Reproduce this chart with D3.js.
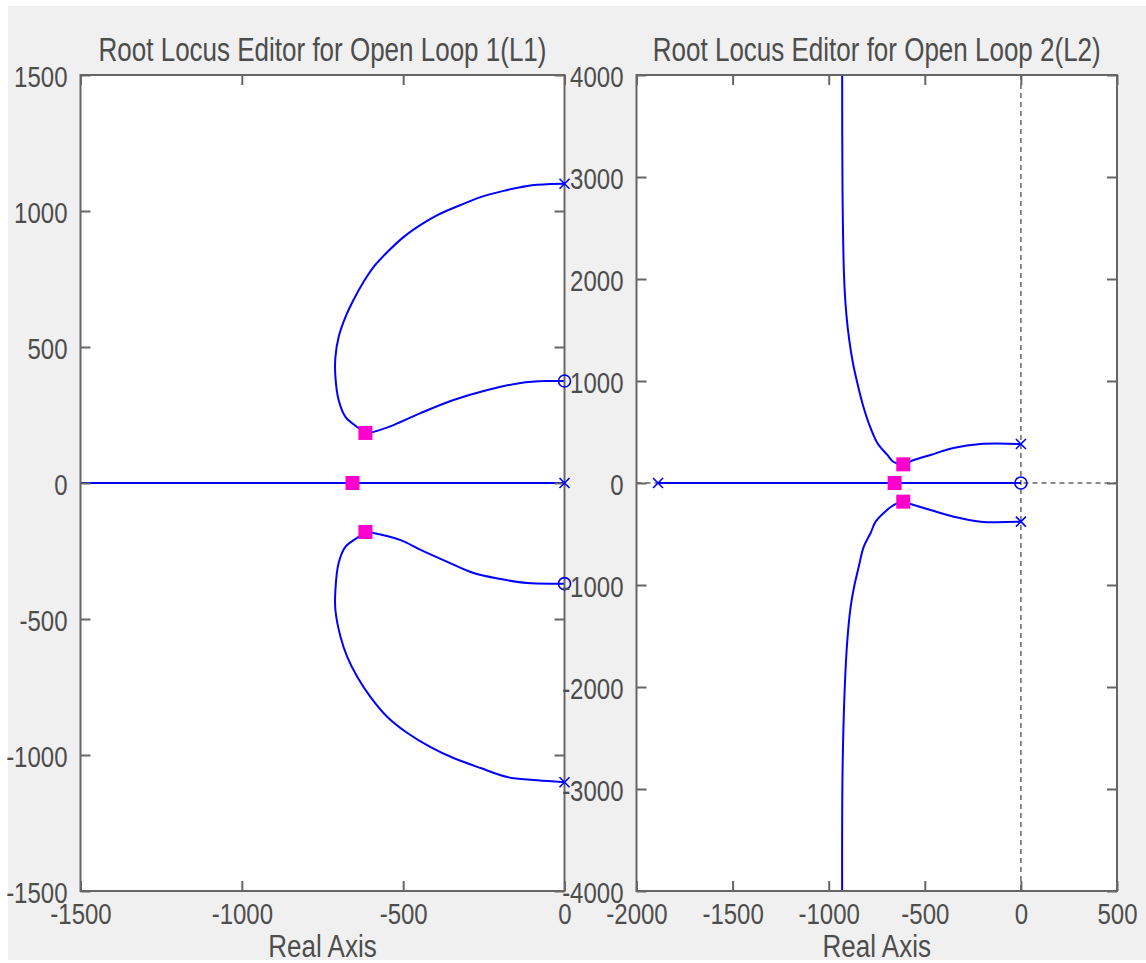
<!DOCTYPE html>
<html>
<head>
<meta charset="utf-8">
<script src="https://cdn.jsdelivr.net/npm/d3@7"></script>
<style>
html,body{margin:0;padding:0;background:#fff;}
svg{display:block;}
</style>
</head>
<body>
<svg id="chart" width="1146" height="963"></svg>
<script>
// ---------- DATA ----------
const titles = ["Root Locus Editor for Open Loop 1(L1)", "Root Locus Editor for Open Loop 2(L2)"];
const xLabel = "Real Axis";

// Panel 1 (L1)
const l1XDomain = [-1500, 0];
const l1YDomain = [-1500, 1500];
const l1XTicks = [-1500, -1000, -500, 0];
const l1YTicks = [-1500, -1000, -500, 0, 500, 1000, 1500];
const l1Poles = [[0, 1100], [0, 0], [0, -1100]];
const l1Zeros = [[0, 375], [0, -370]];
const l1ClosedLoop = [[-617, 184], [-657, 0], [-617, -180]];
const l1UpperBranch = [[0,1100],[-43,1099],[-115,1092],[-189,1074],[-260,1051],[-322,1022],[-394,985],[-446,949],[-499,904],[-549,849],[-592,794],[-623,739],[-654,673],[-679,610],[-700,537],[-710,463],[-710,390],[-700,305],[-679,243],[-638,202],[-617,184],[-592,188],[-530,213],[-446,257],[-344,305],[-239,342],[-136,368],[-53,375],[0,375]];
const l1LowerBranch = [[0,-1100],[-12,-1099],[-96,-1092],[-177,-1081],[-260,-1048],[-344,-1011],[-415,-971],[-487,-919],[-549,-860],[-601,-787],[-642,-713],[-673,-640],[-694,-566],[-710,-467],[-710,-393],[-700,-294],[-679,-235],[-638,-198],[-617,-180],[-592,-184],[-508,-210],[-446,-246],[-363,-290],[-282,-331],[-198,-353],[-115,-368],[-12,-370],[0,-370]];
const l1RealBranch = [[-1500, 0], [0, 0]];

// Panel 2 (L2)
const l2XDomain = [-2000, 500];
const l2YDomain = [-4000, 4000];
const l2XTicks = [-2000, -1500, -1000, -500, 0, 500];
const l2YTicks = [-4000, -3000, -2000, -1000, 0, 1000, 2000, 3000, 4000];
const l2Poles = [[0, 382], [0, -379], [-1888, 0]];
const l2Zeros = [[0, 0]];
const l2ClosedLoop = [[-612, 183], [-657, 0], [-612, -183]];
const l2UpperBranch = [[0,382],[-210,382],[-351,343],[-470,275],[-558,225],[-612,183],[-662,206],[-695,275],[-747,392],[-792,588],[-825,784],[-851,980],[-874,1176],[-893,1400],[-908,1650],[-920,2020],[-928,2843],[-930,4200]];
const l2LowerBranch = [[0,-379],[-210,-379],[-351,-330],[-470,-265],[-574,-206],[-612,-183],[-662,-216],[-714,-294],[-756,-379],[-782,-490],[-818,-627],[-844,-824],[-868,-1020],[-886,-1216],[-903,-1539],[-917,-2029],[-928,-2843],[-930,-4200]];
const l2RealBranch = [[-1888, 0], [0, 0]];

// ---------- DRAW ----------
const svg = d3.select("#chart");
const TEXT = "#4d4d4d";
const FONT = "'Liberation Sans', Arial, sans-serif";
const FS_TICK = 24, FS_TITLE = 26, FS_LABEL = 26, SY = 1.25;
const fmt = d => String(d);

svg.append("rect").attr("x", 8).attr("y", 6).attr("width", 1146 - 8).attr("height", 960 - 6).attr("fill", "#f0f0f0");

function panel(cfg) {
  const { left, right, top, bottom } = cfg.box;
  const x = d3.scaleLinear().domain(cfg.xDomain).range([left, right]);
  const y = d3.scaleLinear().domain(cfg.yDomain).range([bottom, top]);
  const g = svg.append("g");
  const clipId = "clip" + cfg.id;
  svg.append("clipPath").attr("id", clipId).append("rect")
    .attr("x", left).attr("y", top).attr("width", right - left).attr("height", bottom - top);

  g.append("rect").attr("x", left).attr("y", top).attr("width", right - left).attr("height", bottom - top).attr("fill", "#fff");

  const plot = g.append("g").attr("clip-path", `url(#${clipId})`);

  if (cfg.dashed) {
    plot.append("line").attr("x1", left).attr("x2", right).attr("y1", y(0)).attr("y2", y(0))
      .attr("stroke", "#666").attr("stroke-width", 1.5).attr("stroke-dasharray", "5,4");
    plot.append("line").attr("x1", x(0)).attr("x2", x(0)).attr("y1", top).attr("y2", bottom)
      .attr("stroke", "#666").attr("stroke-width", 1.5).attr("stroke-dasharray", "5,4");
  }

  const line = d3.line().x(d => x(d[0])).y(d => y(d[1])).curve(d3.curveCatmullRom.alpha(0.5));
  cfg.branches.forEach(b => {
    plot.append("path").datum(b).attr("d", line).attr("fill", "none")
      .attr("stroke", "#0000ff").attr("stroke-width", 2);
  });

  const mk = (axis, tr) => g.append("g").attr("transform", tr).call(axis);
  const ax = [
    mk(d3.axisBottom(x).tickValues(cfg.xTicks).tickSize(-10).tickSizeOuter(0).tickFormat(fmt), `translate(0,${bottom})`),
    mk(d3.axisTop(x).tickValues(cfg.xTicks).tickSize(-10).tickSizeOuter(0).tickFormat(""), `translate(0,${top})`),
    mk(d3.axisLeft(y).tickValues(cfg.yTicks).tickSize(-10).tickSizeOuter(0).tickFormat(fmt), `translate(${left},0)`),
    mk(d3.axisRight(y).tickValues(cfg.yTicks).tickSize(-10).tickSizeOuter(0).tickFormat(""), `translate(${right},0)`)
  ];
  ax.forEach(a => {
    a.select(".domain").remove();
    a.selectAll("line").attr("stroke", "#666").attr("stroke-width", 2);
  });
  ax[0].selectAll("text").attr("y", null).attr("dy", null)
    .attr("transform", `translate(0,33) scale(1,${SY})`)
    .attr("fill", TEXT).style("font-family", FONT).style("font-size", FS_TICK + "px");
  ax[2].selectAll("text").attr("dy", null).attr("y", null).attr("x", 0)
    .attr("transform", `translate(-13,11) scale(1,${SY})`)
    .attr("fill", TEXT).style("font-family", FONT).style("font-size", FS_TICK + "px");

  g.append("rect").attr("x", left).attr("y", top).attr("width", right - left).attr("height", bottom - top)
    .attr("fill", "none").attr("stroke", "#666").attr("stroke-width", 2);

  const mg = g.append("g");
  cfg.poles.forEach(p => {
    const cx = x(p[0]), cy = y(p[1]), s = 5;
    mg.append("path").attr("d", `M${cx - s},${cy - s}L${cx + s},${cy + s}M${cx - s},${cy + s}L${cx + s},${cy - s}`)
      .attr("stroke", "#0000ff").attr("stroke-width", 1.6).attr("fill", "none");
  });
  cfg.zeros.forEach(p => {
    mg.append("circle").attr("cx", x(p[0])).attr("cy", y(p[1])).attr("r", 6)
      .attr("fill", "none").attr("stroke", "#0000ff").attr("stroke-width", 1.6);
  });
  cfg.closed.forEach(p => {
    mg.append("rect").attr("x", x(p[0]) - 7).attr("y", y(p[1]) - 7).attr("width", 14).attr("height", 14)
      .attr("fill", "#ff00cc");
  });

  const cx = (left + right) / 2;
  g.append("text").attr("transform", `translate(${cx},61) scale(1,${SY})`).attr("text-anchor", "middle")
    .attr("fill", TEXT).style("font-family", FONT).style("font-size", FS_TITLE + "px").text(cfg.title);
  g.append("text").attr("transform", `translate(${cx},957) scale(1,1.2)`).attr("text-anchor", "middle")
    .attr("fill", TEXT).style("font-family", FONT).style("font-size", FS_LABEL + "px").text(xLabel);
}

panel({
  id: 1, box: { left: 80.5, right: 564.5, top: 75, bottom: 891 },
  xDomain: l1XDomain, yDomain: l1YDomain, xTicks: l1XTicks, yTicks: l1YTicks,
  branches: [l1RealBranch, l1UpperBranch, l1LowerBranch],
  poles: l1Poles, zeros: l1Zeros, closed: l1ClosedLoop, title: titles[0], dashed: false
});
panel({
  id: 2, box: { left: 636.5, right: 1117, top: 75, bottom: 891 },
  xDomain: l2XDomain, yDomain: l2YDomain, xTicks: l2XTicks, yTicks: l2YTicks,
  branches: [l2RealBranch, l2UpperBranch, l2LowerBranch],
  poles: l2Poles, zeros: l2Zeros, closed: l2ClosedLoop, title: titles[1], dashed: true
});
</script>
</body>
</html>
